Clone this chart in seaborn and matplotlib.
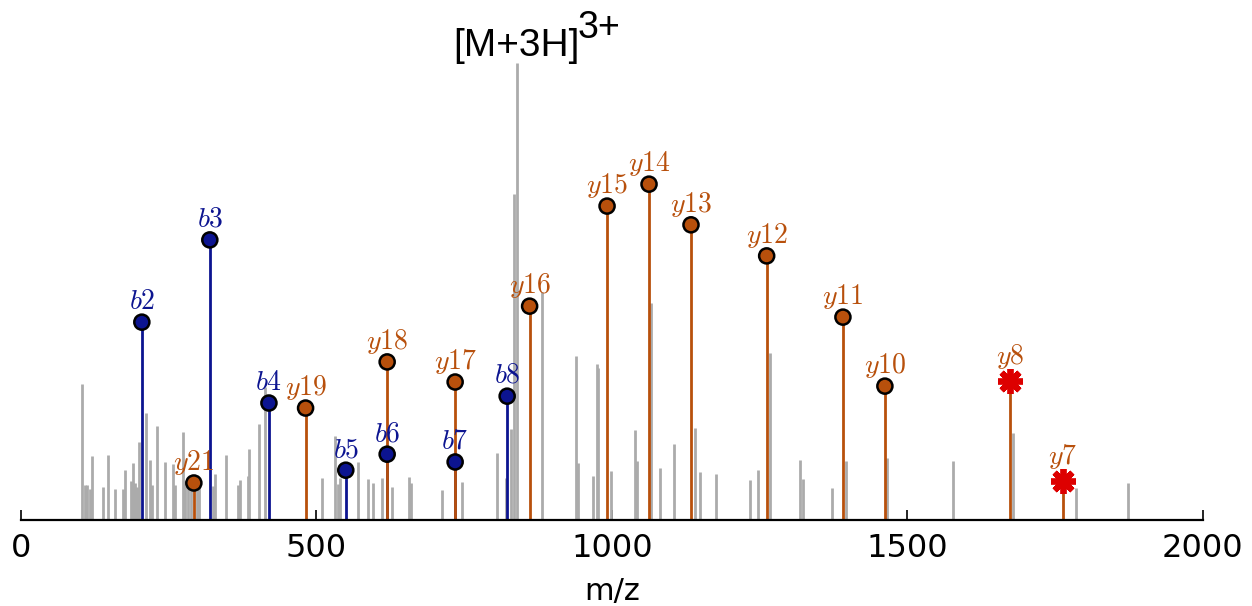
import matplotlib
matplotlib.use("Agg")
import matplotlib.pyplot as plt
from matplotlib.markers import MarkerStyle
import pandas as pd
import seaborn as sns

# ── Data ───────────────────────────────────────────────────────────────────────
noise_mz = [103, 109, 112, 117, 121, 139, 148, 160, 173, 177, 187, 190, 193, 197,
            201, 212, 218, 222, 231, 244, 257, 261, 274, 278, 283, 288, 298, 302,
            325, 329, 347, 368, 371, 384, 387, 404, 413, 510, 531, 536, 540, 570,
            587, 596, 612, 629, 657, 660, 712, 747, 805, 821, 829, 835, 882, 940,
            942, 968, 975, 977, 998, 1040, 1043, 1067, 1082, 1106, 1140, 1149,
            1176, 1234, 1248, 1267, 1319, 1323, 1372, 1397, 1466, 1578, 1679,
            1786, 1874]
noise_int = [29.8, 7.7, 7.7, 6.8, 14.0, 7.2, 14.2, 6.8, 6.8, 11.0, 8.5, 12.5, 8.0,
             7.3, 17.0, 23.4, 13.1, 7.7, 20.6, 12.7, 12.3, 7.7, 19.3, 8.5, 7.4,
             7.4, 7.4, 7.4, 7.4, 10.1, 14.2, 7.6, 8.8, 9.6, 15.5, 21.0, 29.0, 9.3,
             18.4, 7.9, 9.3, 12.7, 9.0, 8.1, 9.3, 7.3, 9.4, 8.1, 6.6, 8.4, 14.7,
             9.3, 19.9, 71.3, 50.0, 35.9, 12.5, 9.6, 34.2, 33.3, 10.7, 19.7, 12.9,
             47.6, 11.4, 16.7, 20.2, 10.4, 10.1, 8.8, 10.9, 36.6, 13.1, 9.0, 7.1,
             12.9, 13.6, 12.9, 19.0, 6.9, 8.0]

precursor_mz = 839
precursor_int = 100.0
precursor_label = "[M+3H]"
precursor_charge = "3+"

b_labels = ["b2", "b3", "b4", "b5", "b6", "b7", "b8"]
b_mz = [205, 320, 420, 550, 620, 735, 823]
b_int = [43.3, 61.3, 25.6, 10.9, 14.4, 12.7, 27.1]

y_labels = ["y21", "y19", "y18", "y17", "y16", "y15", "y14", "y13", "y12",
            "y11", "y10", "y8", "y7"]
y_mz = [293, 482, 620, 735, 861, 992, 1063, 1134, 1262, 1391, 1462, 1673, 1763]
y_int = [8.1, 24.5, 34.6, 30.2, 46.8, 68.7, 73.5, 64.6, 57.8, 44.4, 29.3, 30.4, 8.5]
y_starred = ["y8", "y7"]

# ── Style ──────────────────────────────────────────────────────────────────────
B_COLOR = "#0c1490"
Y_COLOR = "#b8500c"
GREY = "#ababab"
STAR_RED = "#dd0000"

sns.set_theme(style="white")
plt.rcParams["font.family"] = ["DejaVu Sans"]
plt.rcParams["text.color"] = "black"
plt.rcParams["axes.labelcolor"] = "black"
plt.rcParams["xtick.color"] = "black"

fig = plt.figure(figsize=(12.52, 6.06), dpi=100)
ax = fig.add_axes([0.0165, 0.1419, 0.9443, 0.8581])

# grey (unassigned) peaks + precursor
ax.vlines(noise_mz, 0, noise_int, color=GREY, lw=2.0, zorder=1)
ax.vlines([precursor_mz], 0, [precursor_int], color=GREY, lw=2.0, zorder=1)
ax.annotate(precursor_label, (precursor_mz, precursor_int), xytext=(0, 5),
            textcoords="offset points", ha="center", va="baseline",
            fontsize=28, fontfamily="Liberation Sans", color="black")
ax.annotate(precursor_charge, (precursor_mz, precursor_int), xytext=(44, 18),
            textcoords="offset points", ha="left", va="baseline",
            fontsize=27, fontfamily="Liberation Sans", color="black")

# b / y stems
ax.vlines(b_mz, 0, b_int, color=B_COLOR, lw=2.0, zorder=2)
ax.vlines(y_mz, 0, y_int, color=Y_COLOR, lw=2.0, zorder=2)

ions = pd.DataFrame({
    "label": b_labels + y_labels,
    "mz": b_mz + y_mz,
    "intensity": b_int + y_int,
    "series": ["b"] * len(b_labels) + ["y"] * len(y_labels),
})
ions["starred"] = ions["label"].isin(y_starred)

circles = ions[~ions["starred"]]
sns.scatterplot(data=circles, x="mz", y="intensity", hue="series",
                palette={"b": B_COLOR, "y": Y_COLOR}, s=118, edgecolor="black",
                linewidth=1.8, legend=False, zorder=3, ax=ax)

stars = ions[ions["starred"]]
star_marker = MarkerStyle((8, 2, 0), capstyle="round")
ax.plot(stars["mz"], stars["intensity"], ls="none", marker=star_marker,
        markersize=18, markeredgewidth=4.2, color=STAR_RED, zorder=4)

for _, row in ions.iterrows():
    col = B_COLOR if row["series"] == "b" else Y_COLOR
    off = 12.5 if row["starred"] else 9.5
    ax.annotate(f"${row['label']}$", (row["mz"], row["intensity"]),
                xytext=(0, off), textcoords="offset points", ha="center",
                va="baseline", fontsize=20, color=col, math_fontfamily="cm")

# ── Axes ───────────────────────────────────────────────────────────────────────
ax.set_xlim(0, 2000)
ax.set_ylim(0, 113.8)
ax.set_yticks([])
ax.set_xticks([0, 500, 1000, 1500, 2000])
ax.tick_params(axis="x", direction="in", length=7, width=1.2, colors="black",
               labelsize=23, pad=9, bottom=True)
ax.set_xlabel("m/z", fontsize=22, labelpad=10, color="black")
ax.set_ylabel("")
sns.despine(ax=ax, left=True)
ax.spines["bottom"].set_color("black")
ax.spines["bottom"].set_linewidth(1.6)
ax.set_facecolor("white")
ax.grid(False)

fig.savefig("out.png", dpi=100, facecolor="white")
